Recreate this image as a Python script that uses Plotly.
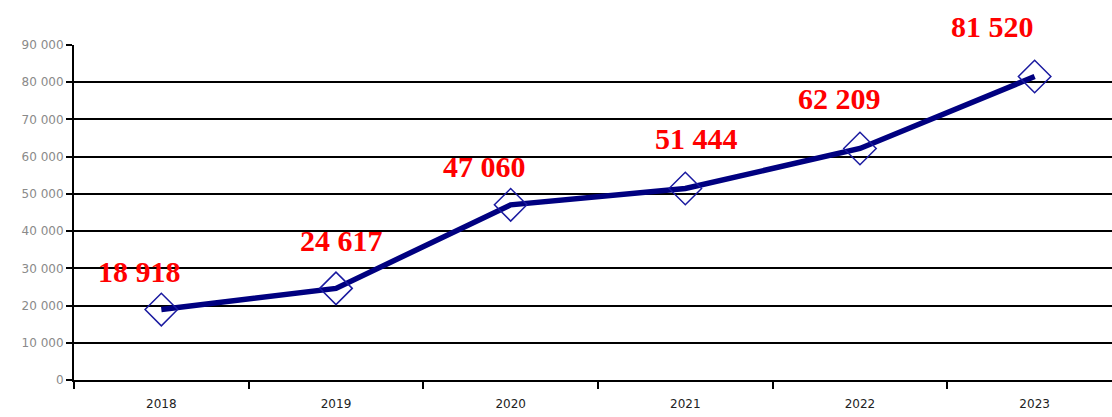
import plotly.graph_objects as go

years = ["2018", "2019", "2020", "2021", "2022", "2023"]
values = [18918, 24617, 47060, 51444, 62209, 81520]
value_labels = ["18 918", "24 617", "47 060", "51 444", "62 209", "81 520"]
y_ticks = [0, 10000, 20000, 30000, 40000, 50000, 60000, 70000, 80000, 90000]
y_tick_text = ["0", "10 000", "20 000", "30 000", "40 000", "50 000", "60 000", "70 000", "80 000", "90 000"]

# label offsets in pixels (styling only)
label_dx = [-22, 6, -26, 11, -20, -42]
label_dy = [38, 48, 38, 50, 50, 50]

NAVY = "#000080"

fig = go.Figure()
fig.add_trace(go.Scatter(
    x=years, y=values, mode="lines+markers",
    line=dict(color=NAVY, width=5.5),
    marker=dict(symbol="diamond-open", size=25, color="#1a1aa0",
                line=dict(width=1.5, color="#1a1aa0")),
    hoverinfo="skip", showlegend=False,
))
# helper trace for gridline axis
fig.add_trace(go.Scatter(x=[years[0]], y=[0], yaxis="y2", mode="markers",
                         marker=dict(opacity=0), showlegend=False, hoverinfo="skip"))

annotations = []
for i, (v, t, dx, dy) in enumerate(zip(values, value_labels, label_dx, label_dy)):
    annotations.append(dict(
        x=i, y=v, xref="x", yref="y", text="<b>" + t + "</b>", showarrow=False,
        xshift=dx, yshift=dy,
        font=dict(family="Liberation Serif", size=30, color="#ff0000"),
        xanchor="center", yanchor="middle"))

fig.update_layout(
    width=1112, height=417,
    margin=dict(l=74, r=0, t=45, b=37),
    paper_bgcolor="white", plot_bgcolor="white",
    annotations=annotations,
    xaxis=dict(
        type="category", range=[-0.5, 5.443],
        showgrid=False, showline=True, linecolor="black", linewidth=2,
        ticks="outside", tickson="boundaries", ticklen=7, tickwidth=1.5, tickcolor="black",
        tickfont=dict(family="DejaVu Sans", size=12, color="#222222"),
        ticklabelstandoff=12,
    ),
    yaxis=dict(
        range=[0, 90000], tickvals=y_ticks, ticktext=y_tick_text,
        showgrid=False, showline=True, linecolor="black", linewidth=2,
        ticks="outside", ticklen=6, tickwidth=1.5, tickcolor="black",
        tickfont=dict(family="DejaVu Sans", size=12, color="#8a8a8a"),
        zeroline=False,
    ),
    yaxis2=dict(
        overlaying="y", range=[0, 90000], tickvals=y_ticks[1:-1],
        showgrid=True, gridcolor="black", gridwidth=1.5,
        showticklabels=False, ticks="", showline=False, zeroline=False,
    ),
)

fig.write_html("out.html", config={"displayModeBar": False},
               post_script="document.body.style.margin='0';")
